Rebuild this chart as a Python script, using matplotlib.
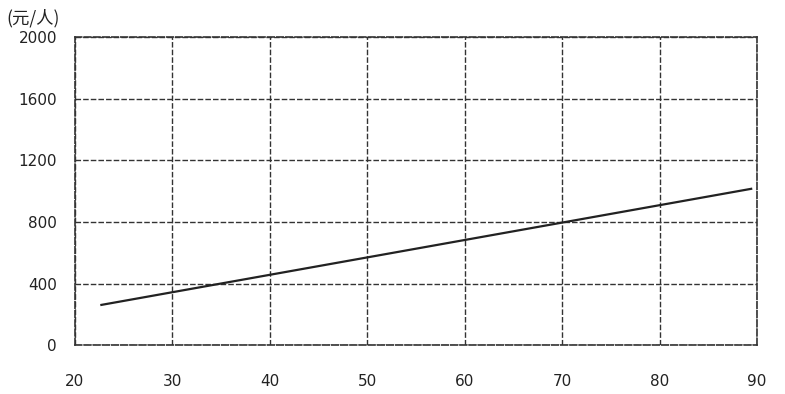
import matplotlib
matplotlib.use("Agg")
import matplotlib.pyplot as plt

plt.rcParams['font.family'] = ['DejaVu Sans', 'Noto Sans CJK SC']

# data
age = [22.6, 89.5]
cost = [260, 1016]
x_ticks = [20, 30, 40, 50, 60, 70, 80, 90]
y_ticks = [0, 400, 800, 1200, 1600, 2000]
unit_label = "(元/人)"

fig = plt.figure(figsize=(7.85, 3.94), dpi=100)
ax = fig.add_axes([0.0955, 0.124, 0.869, 0.782])

ax.plot(age, cost, color="#222222", lw=1.6, solid_capstyle="butt")

ax.set_xlim(20, 90)
ax.set_ylim(0, 2000)
ax.set_xticks(x_ticks)
ax.set_yticks(y_ticks)
ax.grid(True, color="#333333", lw=1.0, ls=(0, (4, 1.5)))
for s in ax.spines.values():
    s.set_linestyle((0, (4, 1.5)))
    s.set_color("#333333")
    s.set_linewidth(1.2)
ax.tick_params(length=0, labelsize=11, colors="#222222")
ax.tick_params(axis="y", pad=13)
ax.tick_params(axis="x", pad=21)

fig.text(0.008, 0.955, unit_label, fontsize=12.5, color="#222222", va="center", ha="left",
         family=['Noto Sans CJK SC', 'DejaVu Sans'])

fig.savefig("out.png", dpi=100)
